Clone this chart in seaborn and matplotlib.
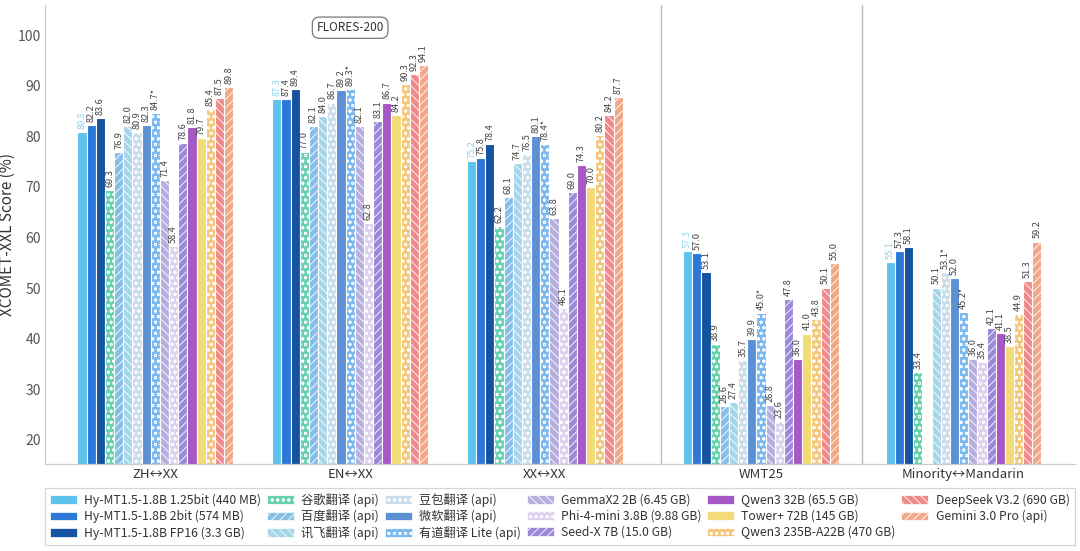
import pandas as pd
import seaborn as sns
import matplotlib.pyplot as plt
from matplotlib.patches import Patch
import numpy as np

# Benchmarks (x groups)
benchmarks = ['ZH↔XX', 'EN↔XX', 'XX↔XX', 'WMT25', 'Minority↔Mandarin']
bench_pos = [0, 1, 2, 3.11, 4.15]

models = ['Hy-MT1.5-1.8B 1.25bit (440 MB)', 'Hy-MT1.5-1.8B 2bit (574 MB)', 'Hy-MT1.5-1.8B FP16 (3.3 GB)',
          '谷歌翻译 (api)', '百度翻译 (api)', '讯飞翻译 (api)',
          '豆包翻译 (api)', '微软翻译 (api)', '有道翻译 Lite (api)',
          'GemmaX2 2B (6.45 GB)', 'Phi-4-mini 3.8B (9.88 GB)', 'Seed-X 7B (15.0 GB)',
          'Qwen3 32B (65.5 GB)', 'Tower+ 72B (145 GB)', 'Qwen3 235B-A22B (470 GB)',
          'DeepSeek V3.2 (690 GB)', 'Gemini 3.0 Pro (api)']

# scores per benchmark, same order as models (nan = not reported)
zh_xx = [80.8, 82.2, 83.6, 69.3, 76.9, 82.0, 80.9, 82.3, 84.7, 71.4, 58.4, 78.6, 81.8, 79.7, 85.4, 87.5, 89.8]
en_xx = [87.3, 87.4, 89.4, 77.0, 82.1, 84.0, 86.7, 89.2, 89.3, 82.1, 62.8, 83.1, 86.7, 84.2, 90.3, 92.3, 94.1]
xx_xx = [75.2, 75.8, 78.4, 62.2, 68.1, 74.7, 76.5, 80.1, 78.4, 63.8, 46.1, 69.0, 74.3, 70.0, 80.2, 84.2, 87.7]
wmt25 = [57.3, 57.0, 53.1, 38.9, 26.6, 27.4, 35.7, 39.9, 45.0, 26.8, 23.6, 47.8, 36.0, 41.0, 43.8, 50.1, 55.0]
minority = [55.1, 57.3, 58.1, 33.4, np.nan, 50.1, 53.1, 52.0, 45.2, 36.0, 35.4, 42.1, 41.1, 38.5, 44.9, 51.3, 59.2]

# (benchmark index, model index) of scores marked with an asterisk
starred = [(0, 8), (1, 8), (2, 8), (3, 8), (4, 6), (4, 8)]

colors = ['#5cc3ec', '#2b78d8', '#14539f', '#66d1ae', '#86bfe6', '#a6d6ea',
          '#c8dcea', '#5b91d4', '#7ab8f0', '#b6aedc', '#dcd2ee', '#9c88d8',
          '#a658c4', '#f3dc78', '#f5c77c', '#f08a8a', '#f2a888']
hatches = ['', '', '', 'ooo', '////', '\\\\\\\\', 'ooo', '', 'ooo', '\\\\\\\\', 'ooo', '////',
           '', '', 'ooo', '\\\\\\\\', '////']

sns.set_style('white')
plt.rcParams['font.family'] = ['Noto Sans CJK SC', 'DejaVu Sans']
plt.rcParams['hatch.linewidth'] = 0.6

all_scores = [zh_xx, en_xx, xx_xx, wmt25, minority]
rows = []
for b, pos, scores in zip(benchmarks, bench_pos, all_scores):
    for m, s in zip(models, scores):
        rows.append({'bench': b, 'pos': pos, 'model': m, 'score': s})
df = pd.DataFrame(rows)

fig = plt.figure(figsize=(10.8, 5.51), dpi=100)
ax = fig.add_axes([0.042, 0.158, 0.953, 0.833])

sns.barplot(data=df, x='pos', y='score', hue='model', hue_order=models, palette=colors,
            native_scale=True, width=0.8, dodge=True, errorbar=None, legend=False,
            saturation=1, edgecolor='white', linewidth=0.8, ax=ax)

# hatches + value labels
for i, cont in enumerate(ax.containers):
    for bar in cont:
        h = bar.get_height()
        if np.isnan(h) or h == 0:
            continue
        bar.set_hatch(hatches[i])
        xc = bar.get_x() + bar.get_width() / 2
        bi = int(np.argmin([abs(xc - p) for p in bench_pos]))
        txt = f'{h:.1f}' + ('*' if (bi, i) in starred else '')
        ax.text(xc, h + 0.6, txt, rotation=90, ha='center', va='bottom', fontsize=6.6,
                color='#8fd3ef' if i == 0 else '#444444')

ax.set_ylim(15.2, 106)
ax.set_xlim(-0.565, 4.72)
ax.set_yticks(range(20, 101, 10))
ax.set_xticks(bench_pos)
ax.set_xticklabels(benchmarks, fontsize=9.5, color='#333333')
ax.tick_params(axis='y', labelsize=10, colors='#555555', length=0, pad=3)
ax.tick_params(axis='x', length=0, pad=3)
ax.set_xlabel('')
ax.set_ylabel('XCOMET-XXL Score (%)', fontsize=11, color='#333333')
ax.yaxis.set_label_coords(-0.029, 0.5)
for s in ['top', 'right']:
    ax.spines[s].set_visible(False)
for s in ['left', 'bottom']:
    ax.spines[s].set_color('#cccccc')
    ax.spines[s].set_linewidth(0.9)

# separators between FLORES-200 and the other test sets
for xs in [2.595, 3.63]:
    ax.axvline(xs, color='#bbbbbb', linewidth=1)

ax.text(1, 101.5, 'FLORES-200', ha='center', va='center', fontsize=8.5, color='#333333',
        bbox=dict(boxstyle='round,pad=0.35,rounding_size=0.6', facecolor='white',
                  edgecolor='#777777', linewidth=0.9))

handles = [Patch(facecolor=c, hatch=h, edgecolor='white', linewidth=0.5) for c, h in zip(colors, hatches)]
leg = fig.legend(handles, models, loc='lower left', bbox_to_anchor=(0.042, 0.011, 0.953, 0.112),
                 mode='expand', ncol=6, fontsize=8.8, frameon=True, handlelength=2.2,
                 handleheight=0.7, borderaxespad=0, labelspacing=0.25, columnspacing=0.8,
                 handletextpad=0.6, fancybox=False)
leg.get_frame().set_edgecolor('#cccccc')
leg.get_frame().set_linewidth(0.9)
for t in leg.get_texts():
    t.set_color('#333333')

fig.savefig('out.png', dpi=100)
